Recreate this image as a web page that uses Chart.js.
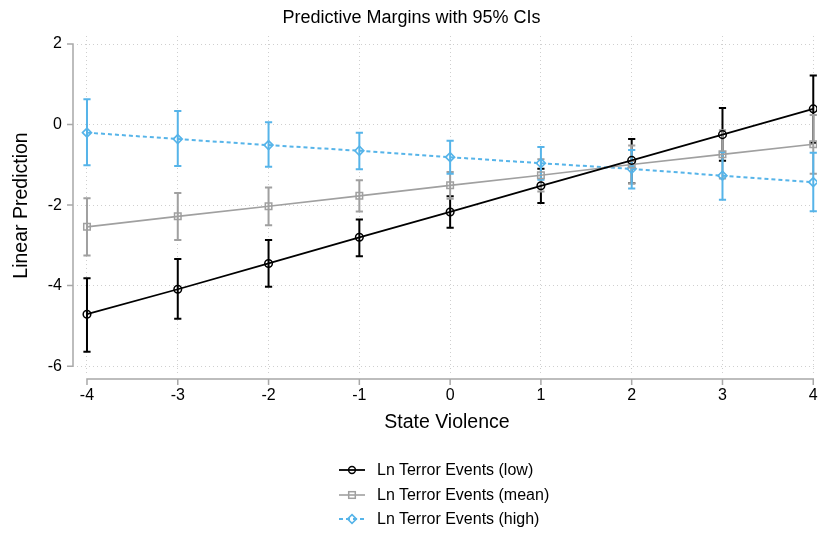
<!DOCTYPE html>
<html>
<head>
<meta charset="utf-8">
<script src="https://cdn.jsdelivr.net/npm/chart.js@4/dist/chart.umd.min.js"></script>
<style>
  html, body { margin: 0; padding: 0; background: #fff; }
  #wrap { position: relative; width: 823px; height: 533px; font-family: "Liberation Sans", Arial, sans-serif; }
  #legend { position: absolute; left: 338px; top: 458px; }
  .row { display: flex; align-items: center; height: 24.5px; font-size: 16px; color: #000; }
  .row svg { margin-right: 11px; }
</style>
</head>
<body>
<div id="wrap">
  <canvas id="c" width="823" height="533"></canvas>
  <div id="legend"></div>
</div>
<script>
// ---- Data ----
const stateViolence = [-4, -3, -2, -1, 0, 1, 2, 3, 4];
const xTicks = [-4, -3, -2, -1, 0, 1, 2, 3, 4];
const yTicks = [-6, -4, -2, 0, 2];

const lowMargin = [-4.71, -4.09, -3.45, -2.80, -2.17, -1.52, -0.89, -0.25, 0.39];
const lowLo     = [-5.64, -4.82, -4.03, -3.27, -2.56, -1.95, -1.46, -0.90, -0.45];
const lowHi     = [-3.82, -3.34, -2.87, -2.36, -1.78, -1.10, -0.36, 0.41, 1.22];

const meanMargin = [-2.54, -2.28, -2.03, -1.77, -1.51, -1.26, -0.99, -0.74, -0.49];
const meanLo     = [-3.25, -2.87, -2.50, -2.16, -1.84, -1.66, -1.46, -1.34, -1.22];
const meanHi     = [-1.83, -1.70, -1.56, -1.38, -1.18, -0.86, -0.52, -0.14, 0.24];

const highMargin = [-0.20, -0.36, -0.51, -0.65, -0.81, -0.96, -1.10, -1.27, -1.43];
const highLo     = [-1.01, -1.03, -1.05, -1.11, -1.22, -1.37, -1.59, -1.87, -2.15];
const highHi     = [0.63, 0.34, 0.06, -0.20, -0.40, -0.56, -0.63, -0.68, -0.70];

const seriesLabels = ['Ln Terror Events (low)', 'Ln Terror Events (mean)', 'Ln Terror Events (high)'];

// ---- Styles ----
const BLACK = '#000000', GRAY = '#a0a0a0', BLUE = '#56b4e9';
const FONT = '"Liberation Sans", Arial, sans-serif';

function pts(vals) { return stateViolence.map((x, i) => ({ x: x, y: vals[i] })); }

const datasets = [
  { label: seriesLabels[0], data: pts(lowMargin), ciLo: lowLo, ciHi: lowHi,
    borderColor: BLACK, borderWidth: 1.8, pointStyle: 'circle', pointRadius: 3.8,
    pointBorderWidth: 1.5, pointBorderColor: BLACK, pointBackgroundColor: 'rgba(0,0,0,0)' },
  { label: seriesLabels[1], data: pts(meanMargin), ciLo: meanLo, ciHi: meanHi,
    borderColor: GRAY, borderWidth: 1.6, pointStyle: 'rect', pointRadius: 4.6,
    pointBorderWidth: 1.5, pointBorderColor: GRAY, pointBackgroundColor: 'rgba(0,0,0,0)' },
  { label: seriesLabels[2], data: pts(highMargin), ciLo: highLo, ciHi: highHi,
    borderColor: BLUE, borderWidth: 2, borderDash: [4, 3], pointStyle: 'rectRot', pointRadius: 4.5,
    pointBorderWidth: 1.6, pointBorderColor: BLUE, pointBackgroundColor: 'rgba(0,0,0,0)' }
];

const stataPlugin = {
  id: 'stata',
  beforeDatasetsDraw(chart) {
    const { ctx, scales: { x, y } } = chart;
    ctx.save();
    ctx.setLineDash([]);
    chart.data.datasets.forEach(ds => {
      ctx.strokeStyle = ds.borderColor;
      ctx.lineWidth = 2;
      ds.data.forEach((p, j) => {
        const px = x.getPixelForValue(p.x);
        const y1 = y.getPixelForValue(ds.ciLo[j]);
        const y2 = y.getPixelForValue(ds.ciHi[j]);
        ctx.beginPath();
        ctx.moveTo(px, y1); ctx.lineTo(px, y2);
        ctx.moveTo(px - 3.6, y1); ctx.lineTo(px + 3.6, y1);
        ctx.moveTo(px - 3.6, y2); ctx.lineTo(px + 3.6, y2);
        ctx.stroke();
      });
    });
    ctx.restore();
  },
  afterDraw(chart) {
    const { ctx, chartArea, scales: { x, y } } = chart;
    ctx.save();
    ctx.strokeStyle = '#a8a8a8';
    ctx.lineWidth = 1.5;
    ctx.setLineDash([]);
    // y axis line + ticks
    const ax = chartArea.left - 4;
    const yTop = y.getPixelForValue(yTicks[yTicks.length - 1]);
    const yBot = y.getPixelForValue(yTicks[0]);
    ctx.beginPath();
    ctx.moveTo(ax, yTop); ctx.lineTo(ax, yBot);
    yTicks.forEach(v => { const py = y.getPixelForValue(v); ctx.moveTo(ax - 6, py); ctx.lineTo(ax + 0.75, py); });
    ctx.stroke();
    // x axis line + ticks
    const ay = chartArea.bottom + 4;
    const xL = x.getPixelForValue(xTicks[0]);
    const xR = x.getPixelForValue(xTicks[xTicks.length - 1]);
    ctx.beginPath();
    ctx.moveTo(xL, ay); ctx.lineTo(xR, ay);
    xTicks.forEach(v => { const px = x.getPixelForValue(v); ctx.moveTo(px, ay - 0.75); ctx.lineTo(px, ay + 6); });
    ctx.stroke();
    ctx.restore();
  }
};

new Chart(document.getElementById('c'), {
  type: 'line',
  data: { datasets: datasets },
  plugins: [stataPlugin],
  options: {
    responsive: false,
    animation: false,
    layout: { padding: { left: 0, right: 0, top: 0, bottom: 88 } },
    plugins: {
      legend: { display: false },
      tooltip: { enabled: false },
      title: {
        display: true, text: 'Predictive Margins with 95% CIs', color: '#000',
        font: { family: FONT, size: 18, weight: 'normal' },
        padding: { top: 7, bottom: 7.4 }
      }
    },
    scales: {
      x: {
        type: 'linear', min: -4.11, max: 4.04,
        afterBuildTicks(s) { s.ticks = xTicks.map(v => ({ value: v })); },
        afterFit(s) { s.height = 70; s.paddingLeft = 0; s.paddingRight = 0; },
        ticks: { color: '#000', font: { family: FONT, size: 16 }, padding: 11, maxRotation: 0,
                 callback: v => String(v) },
        grid: { color: '#cfcfcf', lineWidth: 1, drawTicks: false },
        border: { display: false, dash: [1, 3] },
        title: { display: true, text: 'State Violence', color: '#000',
                 font: { family: FONT, size: 19.5 }, padding: { top: 0, bottom: 11 } }
      },
      y: {
        type: 'linear', min: -6.22, max: 2.2,
        afterBuildTicks(s) { s.ticks = yTicks.map(v => ({ value: v })); },
        afterFit(s) { s.width = 77; s.paddingTop = 0; s.paddingBottom = 0; },
        ticks: { color: '#000', font: { family: FONT, size: 16 }, padding: 15,
                 callback: v => String(v) },
        grid: { color: '#cfcfcf', lineWidth: 1, drawTicks: false },
        border: { display: false, dash: [1, 3] },
        title: { display: true, text: 'Linear Prediction', color: '#000',
                 font: { family: FONT, size: 19.5 }, padding: { top: 10, bottom: 0 } }
      }
    }
  }
});

// ---- HTML legend (stacked rows) ----
const legend = document.getElementById('legend');
datasets.forEach(ds => {
  const row = document.createElement('div');
  row.className = 'row';
  const c = ds.borderColor;
  let marker = '';
  if (ds.pointStyle === 'circle') marker = `<circle cx="14" cy="7" r="3.4" fill="none" stroke="${c}" stroke-width="1.5"/>`;
  else if (ds.pointStyle === 'rect') marker = `<rect x="10.7" y="3.7" width="6.6" height="6.6" fill="none" stroke="${c}" stroke-width="1.5"/>`;
  else marker = `<polygon points="14,2.6 18.4,7 14,11.4 9.6,7" fill="none" stroke="${c}" stroke-width="1.6"/>`;
  const dash = ds.borderDash ? `stroke-dasharray="${ds.borderDash.join(' ')}"` : '';
  row.innerHTML = `<svg width="28" height="14" viewBox="0 0 28 14"><line x1="1" y1="7" x2="27" y2="7" stroke="${c}" stroke-width="${ds.borderWidth}" ${dash}/>${marker}</svg><span>${ds.label}</span>`;
  legend.appendChild(row);
});
</script>
</body>
</html>
